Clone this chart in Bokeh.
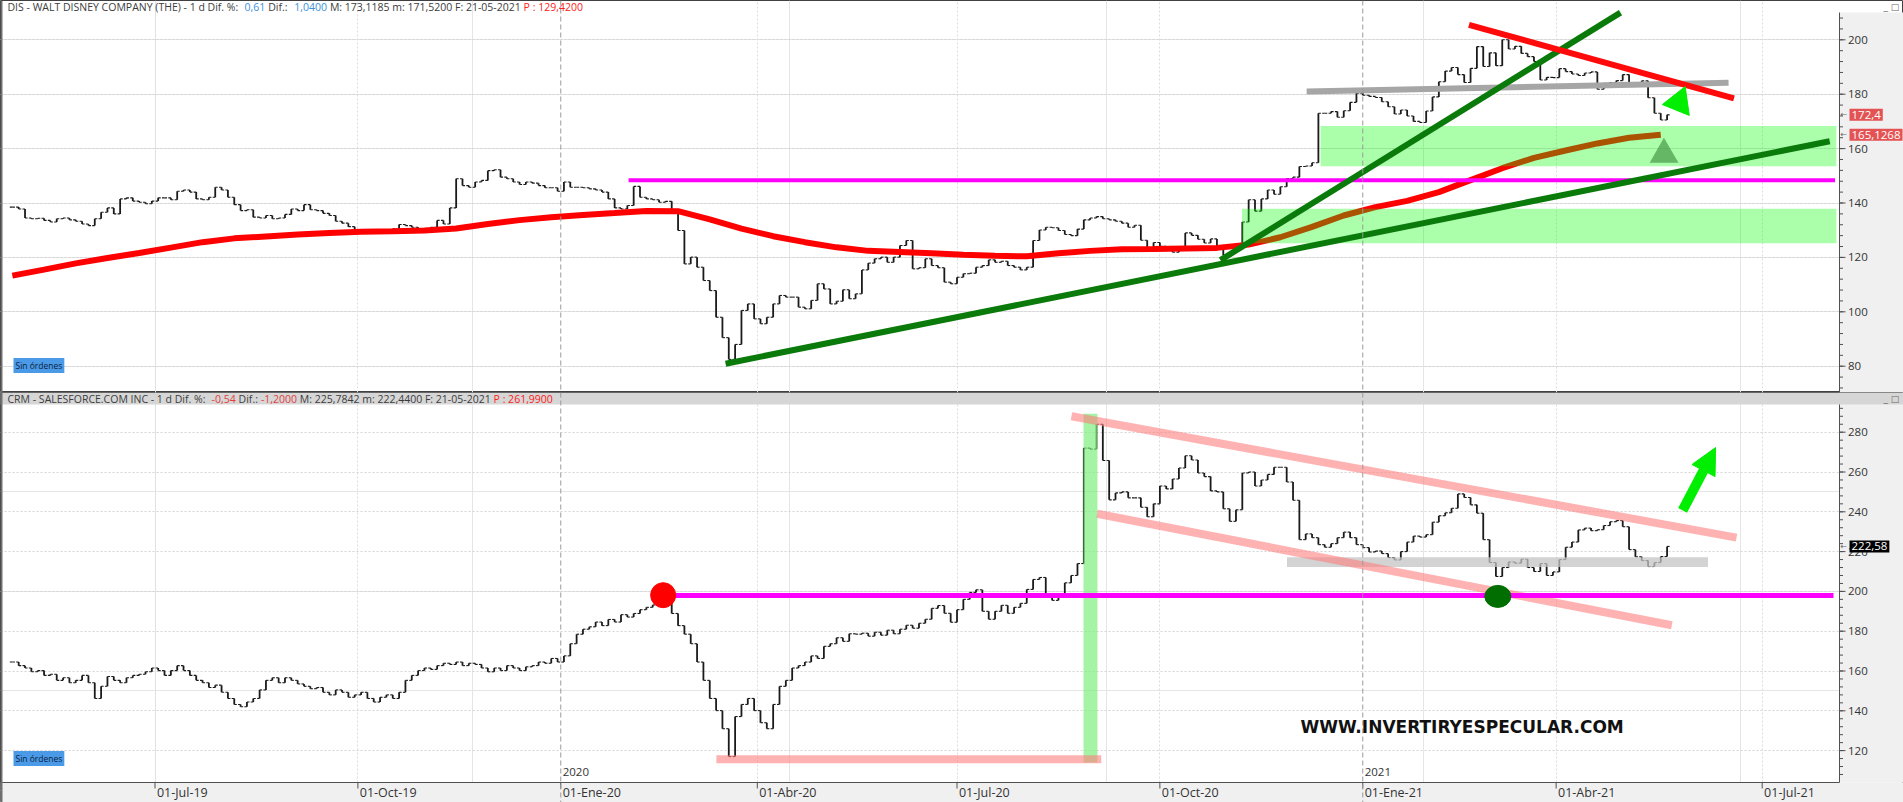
import numpy as np
from bokeh.plotting import figure
from bokeh.layouts import column
from bokeh.models import Range1d, FixedTicker, Grid, Span, Label, Arrow, NormalHead
from bokeh.core.properties import value
from bokeh.embed import file_html
from bokeh.resources import INLINE

# ---------------- data (x = trading-day index, 0 = 01-Jul-2019) ----------------
FIRST_IDX = -45      # first sample
STEP = 2             # trading days between samples
MA_STEP = 10

dis_close = [
    138.5, 137.8, 134.5, 134.2, 134.4, 133.6, 133.0, 134.2, 134.5, 133.8,
    133.3, 132.3, 131.7, 134.2, 136.6, 138.2, 136.0, 141.5, 141.9, 140.7,
    140.3, 139.7, 140.7, 141.9, 141.9, 141.2, 144.3, 144.8, 144.0, 141.5,
    141.2, 142.1, 145.8, 144.8, 142.1, 139.4, 137.2, 137.5, 134.8, 134.5,
    135.4, 134.2, 134.5, 135.8, 137.8, 137.2, 139.4, 137.5, 137.2, 136.2,
    135.4, 133.3, 132.6, 131.3, 130.1, 129.3, 129.5, 129.9, 129.6, 130.1,
    130.5, 132.1, 131.7, 131.1, 130.4, 130.1, 131.1, 133.6, 132.3, 138.2,
    148.9, 146.4, 145.8, 147.7, 148.3, 151.9, 152.2, 149.5, 148.9, 147.7,
    146.8, 147.7, 147.3, 146.4, 145.6, 145.6, 144.3, 147.7, 145.8, 145.8,
    145.6, 145.2, 144.8, 144.0, 141.5, 138.2, 137.8, 139.1, 146.1, 142.1,
    141.5, 141.2, 140.3, 140.6, 136.6, 129.9, 117.6, 120.1, 116.4, 111.5,
    107.8, 98.0, 90.5, 82.5, 88.0, 100.5, 102.9, 97.4, 95.6, 98.0,
    102.9, 106.0, 105.4, 105.4, 101.7, 101.1, 104.2, 110.3, 108.4, 102.9,
    103.9, 108.1, 104.8, 106.6, 115.4, 117.9, 119.5, 120.1, 118.2, 120.1,
    124.4, 126.2, 115.8, 116.2, 119.5, 117.0, 116.2, 110.9, 110.3, 112.7,
    114.0, 114.2, 116.4, 117.0, 119.1, 118.2, 118.6, 117.0, 116.4, 115.4,
    116.4, 126.2, 130.1, 131.1, 130.9, 129.9, 128.4, 128.0, 130.4, 133.8,
    134.5, 135.0, 134.2, 133.8, 133.3, 132.6, 131.1, 131.8, 126.3, 122.8,
    125.5, 124.1, 122.6, 121.9, 123.3, 129.0, 128.1, 126.7, 125.3, 126.8,
    124.0, 120.8, 121.6, 125.0, 133.0, 141.2, 137.0, 141.5, 144.8, 143.2,
    146.0, 149.0, 149.5, 153.4, 153.6, 154.8, 173.0, 173.0, 173.6, 171.5,
    173.9, 177.0, 180.4, 179.6, 179.2, 178.8, 177.2, 175.4, 172.7, 174.2,
    172.0, 170.0, 169.6, 173.8, 179.0, 184.6, 188.5, 189.8, 187.2, 184.3,
    189.5, 197.5, 190.2, 195.2, 190.5, 200.0, 196.6, 197.6, 195.0, 193.8,
    192.0, 185.2, 186.2, 186.1, 189.4, 188.3, 187.4, 186.9, 187.8, 188.2,
    181.8, 184.0, 184.3, 185.0, 187.2, 183.9, 183.5, 184.9, 178.7, 173.0,
    170.5, 172.4,
]

crm_close = [
    164.5, 162.7, 161.5, 159.6, 160.2, 157.8, 158.4, 155.3, 156.6, 154.1,
    155.3, 157.8, 154.1, 146.2, 152.3, 157.2, 155.3, 154.1, 156.6, 157.8,
    158.4, 159.6, 161.5, 160.2, 157.8, 160.2, 162.7, 160.2, 157.8, 155.3,
    154.1, 151.7, 152.9, 149.3, 146.2, 143.2, 142.0, 144.4, 146.2, 150.5,
    155.3, 156.6, 154.1, 156.6, 155.3, 153.5, 152.3, 151.1, 151.7, 149.3,
    148.0, 150.5, 149.3, 146.8, 148.0, 149.3, 146.2, 144.4, 146.8, 148.0,
    146.2, 149.3, 155.3, 157.8, 160.2, 161.5, 160.8, 162.7, 163.9, 163.3,
    164.5, 162.7, 163.9, 163.3, 161.5, 159.6, 161.5, 160.2, 162.7, 161.5,
    160.2, 162.1, 162.7, 164.5, 163.9, 166.3, 164.5, 167.6, 173.7, 178.5,
    181.0, 182.2, 184.6, 182.8, 185.9, 184.6, 188.3, 187.1, 188.9, 190.8,
    192.0, 193.2, 194.4, 195.0, 188.9, 182.8, 178.5, 173.7, 164.5, 155.3,
    146.2, 140.1, 131.0, 117.0, 137.1, 143.2, 146.2, 140.1, 134.0, 131.0,
    143.2, 152.3, 155.3, 161.5, 162.7, 164.5, 167.6, 166.3, 172.4, 173.7,
    176.7, 174.9, 178.7, 178.5, 179.0, 177.5, 179.5, 178.0, 180.5, 178.7,
    181.0, 183.0, 181.5, 184.0, 186.0, 191.5, 192.9, 189.0, 184.5, 190.8,
    196.0, 199.5, 200.8, 190.0, 186.0, 190.0, 193.0, 189.0, 192.0, 194.0,
    201.0, 206.0, 207.0, 198.0, 195.5, 198.5, 204.3, 208.0, 214.0, 272.0,
    271.5, 284.0, 265.8, 246.0, 249.5, 250.0, 247.0, 247.0, 242.3, 237.5,
    244.0, 253.0, 251.5, 256.5, 262.0, 268.2, 266.0, 259.5, 257.7, 250.5,
    250.0, 241.5, 235.2, 241.0, 259.5, 260.0, 253.0, 256.0, 258.8, 262.4,
    262.4, 255.0, 245.8, 226.0, 228.9, 227.0, 223.5, 222.2, 224.0, 227.0,
    229.8, 227.0, 223.5, 222.0, 219.8, 220.3, 219.0, 217.0, 215.8, 220.0,
    224.8, 227.8, 227.3, 228.5, 234.8, 238.0, 239.5, 241.8, 249.0, 247.2,
    243.5, 239.3, 226.0, 214.5, 207.5, 212.0, 214.8, 214.2, 216.2, 212.0,
    210.0, 214.0, 208.0, 209.8, 216.0, 222.2, 224.8, 230.9, 231.8, 230.5,
    231.0, 233.1, 235.0, 235.6, 232.5, 221.0, 217.4, 215.5, 212.5, 214.5,
    217.5, 222.6,
]

dis_ma = [
    113.3, 115.5, 117.8, 119.8, 121.6, 123.6, 125.6, 127.0, 127.7, 128.4,
    129.0, 129.4, 129.6, 129.9, 130.6, 132.3, 133.7, 134.8, 135.6, 136.3,
    137.1, 137.0, 134.0, 130.6, 127.8, 125.6, 123.7, 122.4, 122.0, 121.5,
    121.0, 120.6, 120.4, 121.5, 122.4, 123.0, 123.1, 123.3, 123.5, 124.7,
    127.4, 131.2, 135.4, 138.5, 140.8, 144.0, 148.4, 152.8, 156.6, 159.3,
    161.9, 164.0, 165.1,
]

quarter_idx = [0, 64, 128, 190, 253, 317, 381, 442, 507]
quarter_lbl = ["01-Jul-19", "01-Oct-19", "01-Ene-20", "01-Abr-20", "01-Jul-20",
               "01-Oct-20", "01-Ene-21", "01-Abr-21", "01-Jul-21"]
year_idx = [128, 381]
year_lbl = ["2020", "2021"]

dis_ticks = [80, 100, 120, 140, 160, 180, 200]
dis_minor = list(range(72, 212, 4))
crm_ticks = [120, 140, 160, 180, 200, 220, 240, 260, 280]
crm_minor = list(range(108, 296, 4))

dis_last_lbl = "172,4"
dis_last = 172.4
dis_ma_lbl = "165,1268"
dis_ma_last = 165.1268
crm_last_lbl = "222,58"
crm_last = 222.58

# ---------------- pixel geometry ----------------
W = 1903
H1 = 392
H2 = 410
PX0 = 154.5      # pixel of index 0
PPU = 3.17       # pixels per trading day
FONT = "Open Sans"
AX = "#505050"
BAND = "#f0f0f0"
HEAD_SIZE = 10.5

# approximate Open Sans advance widths (em) used only to keep header pieces apart
OS_W = {" ": .26, "-": .322, ",": .245, ".": .266, ":": .266, "%": .823, "(": .296, ")": .296,
        "A": .633, "C": .632, "D": .713, "E": .556, "F": .516, "H": .742, "I": .279,
        "L": .519, "M": .907, "N": .763, "O": .779, "P": .604, "R": .618, "S": .549,
        "T": .556, "W": .924, "Y": .571, "d": .613, "f": .336, "i": .258, "m": .925}


def text_w(s, size):
    return sum(OS_W.get(ch, .572) for ch in s) * size


def ix(px):
    return (px - PX0) / PPU


XMIN, XMAX = ix(0), ix(W)
X_AXIS = ix(1839)
xr = Range1d(XMIN, XMAX)

Y1_TOP, Y1_BOT = 200 + 39.3 / 2.72, 200 - (H1 - 39.3) / 2.72
Y2_TOP = 280 + (431.7 - 392) / 1.99
Y2_BOT = 280 - (802 - 431.7) / 1.99
Y2_AXIS = 280 - (782 - 431.7) / 1.99
Y2_HEAD = 280 + (431.7 - 404) / 1.99


def make_fig(height, yr, yticks):
    p = figure(width=W, height=height, x_range=xr, y_range=yr,
               output_backend="svg", toolbar_location=None,
               x_axis_location=None, y_axis_location=None,
               min_border_left=0, min_border_top=0,
               min_border_bottom=0, min_border_right=0,
               background_fill_color="white", border_fill_color=BAND,
               outline_line_color="#404040")
    p.add_layout(Grid(dimension=1, ticker=FixedTicker(ticks=yticks),
                      grid_line_color="#d4d4d4", grid_line_dash="2 2"))
    p.add_layout(Grid(dimension=0,
                      ticker=FixedTicker(ticks=[t for t in quarter_idx if t not in year_idx]),
                      grid_line_color="#dcdcdc", grid_line_dash="2 2"))
    for yi in year_idx:
        p.add_layout(Span(location=yi, dimension="height", line_color="#9a9a9a",
                          line_dash="5 3", line_width=1))
    return p


def draw_bars(p, closes):
    c = np.array(closes, dtype=float)
    x = FIRST_IDX + STEP * np.arange(len(c))
    o = np.concatenate([[c[0]], c[:-1]])
    hi = np.maximum(o, c)
    lo = np.minimum(o, c)
    col = "#1a1a1a"
    p.segment(x0=x, y0=lo, x1=x, y1=hi, line_color=col, line_width=1.8)
    p.segment(x0=x - 0.8, y0=o, x1=x, y1=o, line_color=col, line_width=1.1)
    p.segment(x0=x, y0=c, x1=x + 0.8, y1=c, line_color=col, line_width=1.1)


def right_axis(p, ticks, minor, ybot, ytop):
    p.quad(left=[X_AXIS], right=[XMAX], bottom=[ybot], top=[ytop], fill_color=BAND, line_alpha=0)
    p.segment(x0=[X_AXIS], y0=[ybot], x1=[X_AXIS], y1=[ytop], line_color=AX, line_width=1)
    n, m = len(ticks), len(minor)
    p.segment(x0=[X_AXIS] * m, y0=minor, x1=[ix(1842.5)] * m, y1=minor, line_color=AX, line_width=1)
    p.segment(x0=[X_AXIS] * n, y0=ticks, x1=[ix(1845)] * n, y1=ticks, line_color=AX, line_width=1)
    p.text(x=[ix(1847.5)] * n, y=ticks, text=[str(t) for t in ticks], text_font=value(FONT),
           text_font_size="11.5px", text_color="#333333", text_baseline="middle")


def header(p, pieces, yv):
    prev_end = -1e9
    for xs, txt, col in pieces:
        x = max(xs, prev_end + 3)
        p.add_layout(Label(x=x, x_units="screen", y=yv, text=txt, text_color=col,
                           text_font=FONT, text_font_size=f"{HEAD_SIZE}px",
                           text_baseline="middle"))
        prev_end = x + text_w(txt, HEAD_SIZE)
    p.add_layout(Label(x=1883, x_units="screen", y=yv, text="_ \u25a1", text_color="#666666",
                       text_font="DejaVu Sans", text_font_size="9px", text_baseline="middle"))


def price_box(p, yv, txt, bg):
    p.add_layout(Label(x=1840, x_units="screen", y=yv, text="\u2190", text_color="#666666",
                       text_font="DejaVu Sans", text_font_size="8px", text_baseline="middle"))
    p.add_layout(Label(x=1849, x_units="screen", y=yv, text=txt, text_color="white",
                       text_font=FONT, text_font_size="11.5px", text_baseline="middle",
                       background_fill_color=bg, padding=2))


def sin_ordenes(p, yv):
    p.add_layout(Label(x=13, x_units="screen", y=yv, text="Sin órdenes", text_color="#0d1f3c",
                       text_font=FONT, text_font_size="8.5px", text_baseline="middle",
                       background_fill_color="#4a9ae8", padding=2))


def left_edge(p, ybot, ytop):
    p.segment(x0=[ix(1)], y0=[ybot], x1=[ix(1)], y1=[ytop], line_color="#707070", line_width=2)


# ---------------- top: DIS ----------------
p1 = make_fig(H1, Range1d(Y1_BOT, Y1_TOP), dis_ticks)

draw_bars(p1, dis_close)
ma_x = FIRST_IDX + MA_STEP * np.arange(len(dis_ma))
p1.line(ma_x, dis_ma, line_color="#ff0000", line_width=6)

p1.quad(left=[342.9, 367.7], right=[530.4, 530.4], bottom=[125.2, 153.5], top=[137.9, 168.3],
        fill_color="#00ff00", fill_alpha=0.33, line_alpha=0)
p1.segment(x0=[149.4], y0=[148.4], x1=[530.0], y1=[148.4], line_color="#ff00ff", line_width=4)
p1.segment(x0=[363.3], y0=[181.0], x1=[496.4], y1=[184.2], line_color="#a6a6a6", line_width=6)
p1.segment(x0=[180.0, 336.1], y0=[80.9, 119.0], x1=[528.3, 462.3], y1=[162.7, 210.0],
           line_color="#0a7a0a", line_width=6)
p1.segment(x0=[414.5], y0=[205.5], x1=[498.1], y1=[178.5], line_color="#ff0a0a", line_width=6)
p1.patch([482.7, 475.5, 484.0], [182.8, 176.2, 172.2], fill_color="#00ee00", line_color="#00ee00")
p1.patch([476.0, 471.5, 480.6], [164.0, 154.8, 154.8], fill_color="#3f8f3f", fill_alpha=0.65,
         line_alpha=0)

right_axis(p1, dis_ticks, dis_minor, Y1_BOT, 200 + (39.3 - 12) / 2.72)
left_edge(p1, Y1_BOT, Y1_TOP)
header(p1, [
    (7, "DIS - WALT DISNEY COMPANY (THE) -  1 d Dif. %:", "#3c3c3c"),
    (241.5, "0,61", "#3c8fdc"),
    (265.6, "Dif.:", "#3c3c3c"),
    (293.8, "1,0400", "#3c8fdc"),
    (320.5, "M: 173,1185 m: 171,5200 F: 21-05-2021", "#3c3c3c"),
    (508, "P : 129,4200", "#ff2020"),
], 200 + (39.3 - 6.8) / 2.72)
sin_ordenes(p1, 80.3)
price_box(p1, dis_last, dis_last_lbl, "#e35353")
price_box(p1, dis_ma_last, dis_ma_lbl, "#e35353")

# ---------------- bottom: CRM ----------------
p2 = make_fig(H2, Range1d(Y2_BOT, Y2_TOP), crm_ticks)

draw_bars(p2, crm_close)

p2.quad(left=[292.9], right=[297.3], bottom=[114.0], top=[289.3],
        fill_color="#7fee7f", fill_alpha=0.7, line_alpha=0)
p2.quad(left=[357.1], right=[489.9], bottom=[212.2], top=[217.2],
        fill_color="#c4c4c4", fill_alpha=0.75, line_alpha=0)
p2.segment(x0=[289.1, 297.2], y0=[288.0, 239.0], x1=[498.9, 478.5], y1=[227.0, 183.0],
           line_color="#ff7f7f", line_alpha=0.6, line_width=8)
p2.segment(x0=[177.1], y0=[115.6], x1=[298.5], y1=[115.6],
           line_color="#ff7f7f", line_alpha=0.6, line_width=8)
p2.segment(x0=[161.0], y0=[197.9], x1=[529.5], y1=[197.9], line_color="#ff00ff", line_width=5)
p2.scatter(x=[160.3], y=[198.1], size=25, fill_color="#ff0000", line_color="#ff0000")
p2.ellipse(x=[423.6], y=[197.5], width=26, height=22, width_units="screen",
           height_units="screen", fill_color="#006e00", line_color="#006e00")

# x-axis band (bottom)
p2.quad(left=[XMIN], right=[XMAX], bottom=[Y2_BOT], top=[Y2_AXIS], fill_color=BAND, line_alpha=0)
p2.segment(x0=[XMIN], y0=[Y2_AXIS], x1=[X_AXIS], y1=[Y2_AXIS], line_color=AX, line_width=1)
nq = len(quarter_idx)
p2.segment(x0=quarter_idx, y0=[Y2_AXIS] * nq, x1=quarter_idx, y1=[Y2_AXIS - 6 / 1.99] * nq,
           line_color=AX, line_width=1)
p2.text(x=[q + 0.6 for q in quarter_idx], y=[Y2_AXIS - 10 / 1.99] * nq, text=quarter_lbl,
        text_font=value(FONT), text_font_size="12.5px", text_color="#333333",
        text_baseline="middle", text_align="left")

right_axis(p2, crm_ticks, crm_minor, Y2_AXIS, Y2_TOP)
p2.quad(left=[XMIN], right=[XMAX], bottom=[Y2_HEAD], top=[Y2_TOP], fill_color="#d6d6d6", line_alpha=0)
left_edge(p2, Y2_BOT, Y2_TOP)
header(p2, [
    (7, "CRM - SALESFORCE.COM INC -  1 d Dif. %:", "#3c3c3c"),
    (209.8, "-0,54", "#e04040"),
    (236.6, "Dif.:", "#3c3c3c"),
    (259.8, "-1,2000", "#e04040"),
    (296.9, "M: 225,7842 m: 222,4400 F: 21-05-2021", "#3c3c3c"),
    (484.4, "P : 261,9900", "#ff2020"),
], 280 + (431.7 - 398.5) / 1.99)

p2.add_layout(Arrow(end=NormalHead(size=26, fill_color="#00ee00", line_color="#00ee00"),
                    x_start=481.9, y_start=240.7, x_end=492.3, y_end=272.3,
                    line_color="#00ee00", line_width=10))
p2.add_layout(Label(x=1300, x_units="screen", y=131.9, text="WWW.INVERTIRYESPECULAR.COM",
                    text_font="DejaVu Sans", text_font_style="bold", text_font_size="17px",
                    text_color="#111111", text_baseline="middle"))
for yi, yl in zip(year_idx, year_lbl):
    p2.add_layout(Label(x=yi + 0.6, y=109.0, text=yl, text_font=FONT, text_font_size="11.5px",
                        text_color="#333333", text_baseline="middle"))
sin_ordenes(p2, 116.0)
price_box(p2, crm_last, crm_last_lbl, "#000000")

layout = column(p1, p2, spacing=0)
open("out.html", "w").write(file_html(layout, INLINE))
